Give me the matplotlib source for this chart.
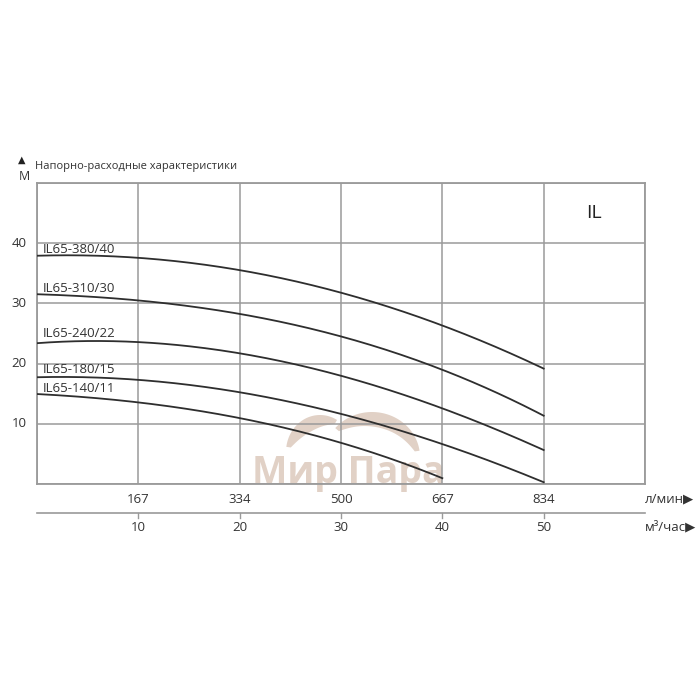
import numpy as np
import matplotlib
matplotlib.use("Agg")
import matplotlib.pyplot as plt
from matplotlib.patches import Polygon

plt.rcParams['font.family'] = ['Open Sans', 'DejaVu Sans']

# расход, м3/час
q = [0, 5, 10, 15, 20, 25, 30, 35, 40, 45, 50]
q_small = [0, 5, 10, 15, 20, 25, 30, 35, 40]

h_380_40 = [37.9, 37.9, 37.7, 36.8, 35.5, 33.8, 31.7, 29.2, 26.5, 23.0, 19.1]
h_310_30 = [31.4, 31.2, 30.7, 29.6, 28.2, 26.4, 24.3, 22.0, 19.3, 15.5, 11.2]
h_240_22 = [23.4, 23.7, 23.6, 22.9, 21.8, 20.0, 17.9, 15.4, 12.7, 9.3, 5.6]
h_180_15 = [17.7, 17.7, 17.4, 16.5, 15.3, 13.5, 11.5, 9.3, 6.8, 3.7, 0.2]
h_140_11 = [14.9, 14.4, 13.7, 12.4, 10.8, 9.0, 7.0, 4.2, 0.9]

names = ['IL65-380/40', 'IL65-310/30', 'IL65-240/22', 'IL65-180/15', 'IL65-140/11']
label_y = [39.0, 32.5, 25.0, 19.0, 15.8]

lpm_ticks = [167, 334, 500, 667, 834]
m3h_ticks = [10, 20, 30, 40, 50]
y_ticks = [10, 20, 30, 40]

grid_c = '#9a9a9a'
line_c = '#2e2e2e'
txt_c = '#333333'
wm_c = '#dcc9bc'

fig = plt.figure(figsize=(7, 7), dpi=100)
ax = fig.add_axes([37/700, 1-484/700, 608/700, 301/700])
ax.set_xlim(0, 60)
ax.set_ylim(0, 50)
ax.set_xticks(range(0, 61, 10))
ax.set_yticks(range(0, 51, 10))
ax.grid(True, color=grid_c, lw=1.1)
ax.tick_params(length=0, labelbottom=False, labelleft=False)
for s in ax.spines.values():
    s.set_color(grid_c)
    s.set_linewidth(1.3)

series = [(q, h_380_40), (q, h_310_30), (q, h_240_22), (q, h_180_15), (q_small, h_140_11)]
for (xs, ys), name, ly in zip(series, names, label_y):
    c = np.polyfit(xs, ys, 3)
    xx = np.linspace(xs[0], xs[-1], 200)
    ax.plot(xx, np.polyval(c, xx), color=line_c, lw=1.3, zorder=3)
    ax.text(0.6, ly, name, fontsize=9.5, color=txt_c, va='center', ha='left', zorder=4)

ax.text(55, 45, 'IL', fontsize=14, color='#222222', ha='center', va='center')


# watermark (logo in pixel coords)
def crescent(cx, cy, rx, ry, t1, t2, thick):
    t = np.radians(np.linspace(t1, t2, 60))
    w = np.sin(np.linspace(0.15, np.pi - 0.15, 60)) ** 0.6 * thick
    outer = np.c_[cx + rx*np.cos(t), cy - ry*np.sin(t)]
    inner = np.c_[cx + (rx-w)*np.cos(t), cy - (ry-w)*np.sin(t)][::-1]
    pts = np.vstack([outer, inner])
    return pts / [700, -700] + [0, 1]

for cx, cy, rx, ry, t1, t2, th in [(320, 452, 34, 37, 60, 172, 14),
                                   (372, 457, 48, 45, 8, 140, 15)]:
    fig.patches.append(Polygon(crescent(cx, cy, rx, ry, t1, t2, th), closed=True,
                               transform=fig.transFigure, facecolor=wm_c,
                               edgecolor='none', alpha=0.85, zorder=0))
fig.text(348/700, 1-473/700, 'Мир Пара', fontsize=27, fontweight='bold', color=wm_c,
         ha='center', va='center', alpha=0.85, zorder=0)
ax.set_facecolor('none')
ax.set_zorder(2)

# y tick labels
for v in y_ticks:
    ax.text(-1.0, v, str(v), fontsize=9.5, color=txt_c, ha='right', va='center',
            clip_on=False)

tr = ax.get_xaxis_transform()
for xv, lab in zip(m3h_ticks, lpm_ticks):
    ax.text(xv, -0.05, str(lab), transform=tr, fontsize=9.5, color=txt_c,
            ha='center', va='center')
    ax.text(xv, -0.143, str(xv), transform=tr, fontsize=9.5, color=txt_c,
            ha='center', va='center')
    ax.plot([xv, xv], [-0.095, -0.112], transform=tr, color=grid_c, lw=1,
            clip_on=False)
ax.plot([0, 60], [-0.095, -0.095], transform=tr, color=grid_c, lw=1.2, clip_on=False)
ax.text(60.0, -0.05, 'л/мин▶', transform=tr, fontsize=9.5, color=txt_c,
        ha='left', va='center')
ax.text(60.0, -0.143, 'м³/час▶', transform=tr, fontsize=9.5, color=txt_c,
        ha='left', va='center')

fig.text(22/700, 1-160/700, '▲', fontsize=7, color='#222222', ha='center', va='center',
         family='DejaVu Sans')
fig.text(24/700, 1-177/700, 'М', fontsize=9, color=txt_c, ha='center', va='center')
fig.text(35/700, 1-166/700, 'Напорно-расходные характеристики', fontsize=8,
         color=txt_c, ha='left', va='center')

fig.savefig('out.png', dpi=100, facecolor='white')
